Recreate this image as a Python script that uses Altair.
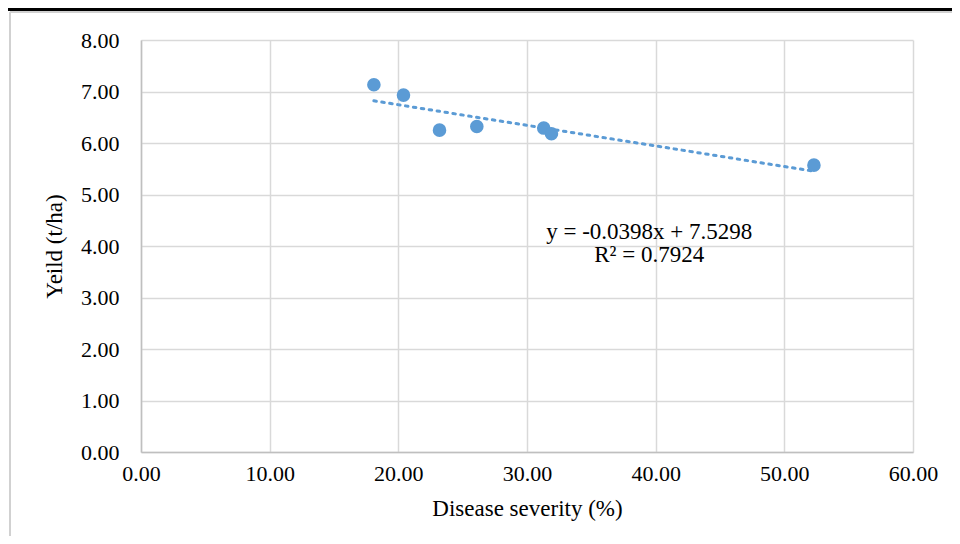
import altair as alt
import pandas as pd

# Data
severity = [18.1, 20.4, 23.2, 26.1, 31.3, 31.9, 52.3]
yield_t = [7.13, 6.93, 6.25, 6.32, 6.29, 6.18, 5.57]

x_ticks = [0, 10, 20, 30, 40, 50, 60]
y_ticks = [0, 1, 2, 3, 4, 5, 6, 7, 8]

eq_text = ["y = -0.0398x + 7.5298", "R² = 0.7924"]
eq_x = [39.5, 39.5]
eq_y = [4.27, 3.83]

df = pd.DataFrame({"x": severity, "y": yield_t})
eq_df = pd.DataFrame({"t": eq_text, "x": eq_x, "y": eq_y})

FONT = "Liberation Serif"
BLUE = "#5b9bd5"

xscale = alt.Scale(domain=[0, 60], nice=False, zero=True)
yscale = alt.Scale(domain=[0, 8], nice=False, zero=True)

xaxis = alt.Axis(values=x_ticks, format=".2f", title="Disease severity (%)",
                 grid=True, gridColor="#d9d9d9", gridWidth=1.5,
                 domainColor="#bfbfbf", domainWidth=1.5, ticks=False,
                 labelFlush=False,
                 labelFont=FONT, labelFontSize=22, labelColor="#000000",
                 labelPadding=11, titleFont=FONT, titleFontSize=23,
                 titleFontWeight="normal", titleColor="#000000", titlePadding=13)
yaxis = alt.Axis(values=y_ticks, format=".2f", title="Yeild (t/ha)",
                 grid=True, gridColor="#d9d9d9", gridWidth=1.5,
                 domainColor="#bfbfbf", domainWidth=1.5, ticks=False,
                 labelFlush=False,
                 labelFont=FONT, labelFontSize=22, labelColor="#000000",
                 labelPadding=22, titleFont=FONT, titleFontSize=23,
                 titleFontWeight="normal", titleColor="#000000", titlePadding=14)

points = alt.Chart(df).mark_circle(size=185, color=BLUE, opacity=1).encode(
    x=alt.X("x:Q", scale=xscale, axis=xaxis),
    y=alt.Y("y:Q", scale=yscale, axis=yaxis),
)

trend = alt.Chart(df).transform_regression("x", "y").mark_line(
    color=BLUE, strokeWidth=3, strokeDash=[2.5, 5.5], strokeCap="round"
).encode(x=alt.X("x:Q", scale=xscale), y=alt.Y("y:Q", scale=yscale))

eq = alt.Chart(eq_df).mark_text(font=FONT, fontSize=23, color="#000000").encode(
    x=alt.X("x:Q", scale=xscale), y=alt.Y("y:Q", scale=yscale), text="t:N"
)

# decorative frame lines of the screenshot
black_line = alt.Chart(df).mark_rule(color="#000000", strokeWidth=3).encode(
    x=alt.value(-133), x2=alt.value(815), y=alt.value(-31)
)
gray_top = alt.Chart(df).mark_rule(color="#d0d0d0", strokeWidth=1.5).encode(
    x=alt.value(-131), x2=alt.value(815), y=alt.value(-28)
)
gray_left = alt.Chart(df).mark_rule(color="#d0d0d0", strokeWidth=1.5).encode(
    x=alt.value(-131), y=alt.value(-28), y2=alt.value(500)
)

chart = alt.layer(black_line, gray_top, gray_left, trend, points, eq).properties(
    width=772, height=412,
    autosize=alt.AutoSizeParams(type="none"),
    padding={"left": 133, "top": 32, "right": 39, "bottom": 84},
    background="#ffffff",
).configure_view(stroke=None)

chart.save("out.html", embed_options={"renderer": "svg", "actions": False})
